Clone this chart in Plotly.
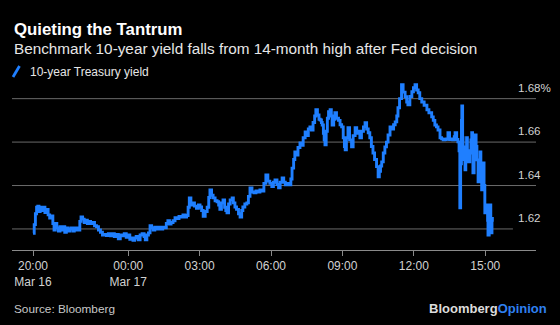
import plotly.graph_objects as go

# 10-year Treasury yield, intraday, Mar 16 evening to Mar 17 afternoon (%)
times_mar16 = [
    "20:00", "20:03", "20:06", "20:09", "20:12", "20:15", "20:18", "20:22", "20:26", "20:30",
    "20:34", "20:38", "20:42", "20:46", "20:50", "20:53", "20:56", "21:00", "21:04", "21:08",
    "21:12", "21:16", "21:20", "21:24", "21:28", "21:32", "21:36", "21:40", "21:44", "21:48",
    "21:52", "21:55", "21:58", "22:01", "22:05", "22:09", "22:13", "22:17", "22:21", "22:25",
    "22:30", "22:35", "22:40", "22:45", "22:50", "22:55", "23:00", "23:05", "23:10", "23:15",
    "23:20", "23:25", "23:30", "23:35", "23:40", "23:45", "23:50", "23:55",
]
yield_mar16 = [
    1.6180, 1.6220, 1.6270, 1.6300, 1.6305, 1.6280, 1.6300, 1.6285, 1.6300, 1.6275,
    1.6290, 1.6265, 1.6250, 1.6260, 1.6225, 1.6195, 1.6225, 1.6205, 1.6190, 1.6210,
    1.6195, 1.6210, 1.6185, 1.6205, 1.6190, 1.6200, 1.6205, 1.6190, 1.6205, 1.6195,
    1.6205, 1.6195, 1.6235, 1.6255, 1.6245, 1.6230, 1.6240, 1.6225, 1.6235, 1.6225,
    1.6230, 1.6215, 1.6210, 1.6195, 1.6185, 1.6172, 1.6175, 1.6170, 1.6178, 1.6168,
    1.6178, 1.6165, 1.6175, 1.6155, 1.6172, 1.6168, 1.6178, 1.6162,
]

times_mar17 = [
    "00:00", "00:04", "00:08", "00:12", "00:16", "00:20", "00:25", "00:30", "00:35", "00:40",
    "00:43", "00:47", "00:51", "00:55", "00:59", "01:03", "01:07", "01:12", "01:17", "01:22",
    "01:27", "01:32", "01:36", "01:40", "01:44", "01:48", "01:53", "01:58", "02:03", "02:08",
    "02:13", "02:18", "02:23", "02:27", "02:31", "02:34", "02:38", "02:42", "02:47", "02:52",
    "02:57", "03:01", "03:05", "03:09", "03:14", "03:19", "03:23", "03:26", "03:30", "03:34",
    "03:39", "03:44", "03:48", "03:51", "03:55", "03:59", "04:03", "04:06", "04:09", "04:13",
    "04:17", "04:22", "04:25", "04:29", "04:33", "04:38", "04:42", "04:46", "04:49", "04:54",
    "04:59", "05:03", "05:07", "05:12", "05:17", "05:22", "05:27", "05:32", "05:37", "05:42",
    "05:47", "05:52", "05:57", "06:02", "06:06", "06:10", "06:15", "06:19", "06:23", "06:28",
    "06:32", "06:36", "06:41", "06:46", "06:50", "06:53", "06:57", "07:00", "07:04", "07:08",
    "07:13", "07:17", "07:21", "07:26", "07:30", "07:34", "07:38", "07:42", "07:46", "07:50",
    "07:53", "07:57", "08:01", "08:04", "08:07", "08:09", "08:12", "08:14", "08:16", "08:19",
    "08:22", "08:25", "08:29", "08:32", "08:34", "08:38", "08:41", "08:45", "08:50", "08:54",
    "08:58", "09:02", "09:05", "09:07", "09:10", "09:14", "09:18", "09:23", "09:27", "09:32",
    "09:36", "09:40", "09:44", "09:48", "09:53", "09:57", "10:01", "10:05", "10:09", "10:13",
    "10:17", "10:21", "10:26", "10:30", "10:33", "10:36", "10:39", "10:43", "10:47", "10:51",
    "10:55", "11:00", "11:04", "11:09", "11:13", "11:17", "11:20", "11:24", "11:29", "11:33",
    "11:38", "11:42", "11:45", "11:50", "11:55", "11:59", "12:03", "12:07", "12:11", "12:15",
    "12:20", "12:26", "12:33", "12:38", "12:45", "12:49", "12:53", "12:57", "13:01", "13:06",
    "13:10", "13:14", "13:18", "13:22", "13:26", "13:30", "13:34", "13:38", "13:42", "13:44",
    "13:48", "13:51", "13:54", "13:56", "13:58", "14:00", "14:01", "14:03", "14:04", "14:07",
    "14:09", "14:11", "14:13", "14:15", "14:17", "14:21", "14:24", "14:26", "14:28", "14:29",
    "14:32", "14:34", "14:37", "14:39", "14:42", "14:44", "14:47", "14:49", "14:51", "14:53",
    "14:54", "14:57", "14:59", "15:02", "15:04", "15:06", "15:07", "15:10", "15:12", "15:14",
    "15:15", "15:17", "15:18",
]
yield_mar17 = [
    1.6172, 1.6152, 1.6158, 1.6148, 1.6158, 1.6165, 1.6150, 1.6172, 1.6178, 1.6165,
    1.6150, 1.6172, 1.6182, 1.6215, 1.6205, 1.6195, 1.6208, 1.6200, 1.6208, 1.6200,
    1.6208, 1.6205, 1.6225, 1.6238, 1.6222, 1.6230, 1.6238, 1.6252, 1.6248, 1.6258,
    1.6255, 1.6265, 1.6255, 1.6262, 1.6300, 1.6343, 1.6310, 1.6320, 1.6305, 1.6295,
    1.6310, 1.6301, 1.6285, 1.6258, 1.6280, 1.6300, 1.6345, 1.6380, 1.6355, 1.6343,
    1.6330, 1.6325, 1.6310, 1.6290, 1.6320, 1.6334, 1.6300, 1.6285, 1.6274, 1.6315,
    1.6334, 1.6343, 1.6320, 1.6301, 1.6290, 1.6270, 1.6255, 1.6285, 1.6301, 1.6315,
    1.6320, 1.6350, 1.6389, 1.6370, 1.6366, 1.6375, 1.6370, 1.6380, 1.6375, 1.6410,
    1.6449, 1.6420, 1.6410, 1.6395, 1.6415, 1.6426, 1.6405, 1.6390, 1.6415, 1.6435,
    1.6415, 1.6403, 1.6410, 1.6403, 1.6430, 1.6480, 1.6520, 1.6555, 1.6540, 1.6575,
    1.6596, 1.6585, 1.6620, 1.6647, 1.6630, 1.6660, 1.6670, 1.6655, 1.6690, 1.6720,
    1.6749, 1.6725, 1.6705, 1.6702, 1.6690, 1.6679, 1.6640, 1.6610, 1.6587, 1.6650,
    1.6710, 1.6740, 1.6749, 1.6720, 1.6679, 1.6705, 1.6735, 1.6710, 1.6700, 1.6680,
    1.6670, 1.6620, 1.6580, 1.6564, 1.6620, 1.6666, 1.6610, 1.6578, 1.6630, 1.6666,
    1.6640, 1.6650, 1.6620, 1.6650, 1.6670, 1.6689, 1.6660, 1.6643, 1.6620, 1.6580,
    1.6550, 1.6520, 1.6487, 1.6440, 1.6465, 1.6490, 1.6509, 1.6550, 1.6578, 1.6600,
    1.6633, 1.6670, 1.6660, 1.6680, 1.6693, 1.6720, 1.6758, 1.6800, 1.6864, 1.6830,
    1.6809, 1.6785, 1.6772, 1.6810, 1.6832, 1.6850, 1.6864, 1.6840, 1.6827, 1.6800,
    1.6785, 1.6770, 1.6749, 1.6735, 1.6716, 1.6700, 1.6679, 1.6670, 1.6656, 1.6620,
    1.6615, 1.6610, 1.6612, 1.6615, 1.6643, 1.6612, 1.6615, 1.6610, 1.6625, 1.6643,
    1.6612, 1.6601, 1.6560, 1.6297, 1.6500, 1.6700, 1.6766, 1.6620, 1.6578, 1.6520,
    1.6472, 1.6560, 1.6620, 1.6560, 1.6509, 1.6560, 1.6610, 1.6643, 1.6550, 1.6458,
    1.6580, 1.6633, 1.6580, 1.6518, 1.6417, 1.6500, 1.6555, 1.6480, 1.6380, 1.6450,
    1.6504, 1.6400, 1.6274, 1.6300, 1.6311, 1.6240, 1.6172, 1.6250, 1.6311, 1.6230,
    1.6182, 1.6240, 1.6255,
]

tick_times = ["2021-03-16 20:00", "2021-03-17 00:00", "2021-03-17 03:00", "2021-03-17 06:00",
              "2021-03-17 09:00", "2021-03-17 12:00", "2021-03-17 15:00"]
tick_text = ["20:00<br>Mar 16", "00:00<br>Mar 17", "03:00", "06:00", "09:00", "12:00", "15:00"]

grid_values = [1.62, 1.64, 1.66, 1.68]
grid_labels = ["1.62", "1.64", "1.66", "1.68%"]

x = ["2021-03-16 " + t for t in times_mar16] + ["2021-03-17 " + t for t in times_mar17]
y = yield_mar16 + yield_mar17

BLUE = "#1f7fff"
FONT = "Liberation Sans, Arial, sans-serif"

fig = go.Figure()
fig.add_trace(go.Scatter(
    x=x, y=y, mode="lines", line=dict(color=BLUE, width=2.9, shape="hv"),
    showlegend=False, hoverinfo="skip",
))

shapes = []
for v in grid_values:
    shapes.append(dict(
        type="line", xref="paper", yref="y", x0=0, x1=0.956 if v == 1.62 else 1,
        y0=v, y1=v, line=dict(color="#6a6a6a", width=1), layer="below",
    ))
# legend swatch (slanted stroke)
shapes.append(dict(type="line", xref="paper", yref="paper",
                   x0=(13 - 12) / 524, y0=(250 - 77) / 170,
                   x1=(19.5 - 12) / 524, y1=(250 - 66) / 170,
                   line=dict(color=BLUE, width=2.8)))

annotations = [
    dict(text="<b>Quieting the Tantrum</b>", x=0, y=(250 - 29.5) / 170, xref="paper", yref="paper",
         xanchor="left", yanchor="middle", showarrow=False,
         font=dict(family=FONT, size=16.8, color="#ffffff")),
    dict(text="Benchmark 10-year yield falls from 14-month high after Fed decision",
         x=0, y=(250 - 48) / 170, xref="paper", yref="paper",
         xanchor="left", yanchor="middle", showarrow=False,
         font=dict(family=FONT, size=15.3, color="#e6e6e6")),
    dict(text="10-year Treasury yield", x=(28 - 12) / 524, y=(250 - 71.5) / 170,
         xref="paper", yref="paper", xanchor="left", yanchor="middle", showarrow=False,
         font=dict(family=FONT, size=12, color="#e6e6e6")),
    dict(text="Source: Bloomberg", x=0, y=(250 - 308.5) / 170, xref="paper", yref="paper",
         xanchor="left", yanchor="middle", showarrow=False,
         font=dict(family=FONT, size=11.8, color="#c8c8c8")),
    dict(text="<b>Bloomberg</b><b><span style='color:#2f80f0'>Opinion</span></b>",
         x=(549 - 12) / 524, y=(250 - 308.5) / 170, xref="paper", yref="paper",
         xanchor="right", yanchor="middle", showarrow=False,
         font=dict(family=FONT, size=13, color="#dcdcdc")),
]
for v, lab in zip(grid_values, grid_labels):
    annotations.append(dict(
        text=lab, x=(516 - 12) / 524, y=v, xref="paper", yref="y",
        xanchor="left", yanchor="middle", yshift=11.5, showarrow=False,
        font=dict(family=FONT, size=11.6, color="#d2d2d2"),
    ))

fig.update_layout(
    width=560, height=325,
    margin=dict(l=12, r=24, t=80, b=75),
    paper_bgcolor="#000000", plot_bgcolor="#000000",
    font=dict(family=FONT, color="#d2d2d2"),
    shapes=shapes, annotations=annotations,
    xaxis=dict(
        type="date", range=["2021-03-16 19:07", "2021-03-17 17:08"],
        tickvals=tick_times, ticktext=tick_text,
        showgrid=False, zeroline=False, showline=True, linecolor="#8a8a8a", linewidth=1,
        ticks="outside", ticklen=5, tickcolor="#8a8a8a", tickwidth=1,
        tickfont=dict(family=FONT, size=12, color="#d2d2d2"),
    ),
    yaxis=dict(
        range=[1.6103, 1.6886], showgrid=False, zeroline=False,
        showticklabels=False, showline=False, ticks="",
    ),
)

fig.write_html("out.html")
